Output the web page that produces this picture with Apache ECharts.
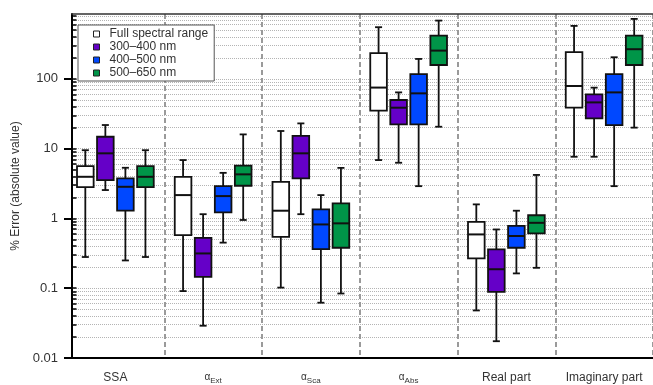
<!DOCTYPE html>
<html>
<head>
<meta charset="utf-8">
<script src="https://cdn.jsdelivr.net/npm/echarts@6/dist/echarts.min.js"></script>
<style>
  html, body { margin: 0; padding: 0; background: #fff; }
  #chart { width: 653px; height: 385px; }
</style>
</head>
<body>
<div id="chart"></div>
<script>
// Retrieved parameters
const categories = ['SSA', 'αExt', 'αSca', 'αAbs', 'Real part', 'Imaginary part'];
const seriesNames = ['Full spectral range', '300–400 nm', '400–500 nm', '500–650 nm'];
const seriesColors = ['#ffffff', '#6500c8', '#0048ff', '#009548'];

// Error summaries per category: [lower whisker, Q1, median, Q3, upper whisker]
const fullRange = [
  [0.28, 2.8, 3.95, 5.6, 9.5],
  [0.091, 0.576, 2.16, 3.95, 6.86],
  [0.102, 0.545, 1.29, 3.35, 17.9],
  [6.86, 35, 75, 233, 550],
  [0.048, 0.267, 0.59, 0.89, 1.59],
  [7.65, 38.6, 79, 241, 574]
];
const band300to400 = [
  [2.55, 3.55, 8.57, 14.8, 21.8],
  [0.029, 0.145, 0.315, 0.527, 1.15],
  [1.15, 3.75, 8.57, 15.2, 23],
  [6.28, 22.3, 38.6, 49.8, 64],
  [0.0174, 0.0885, 0.187, 0.36, 0.695],
  [7.65, 27.2, 46, 60, 74.8]
];
const band400to500 = [
  [0.25, 1.29, 2.84, 3.75, 5.32],
  [0.45, 1.22, 2.09, 2.9, 4.5],
  [0.062, 0.363, 0.82, 1.35, 2.16],
  [2.9, 22.3, 62, 117, 193],
  [0.163, 0.38, 0.56, 0.78, 1.29],
  [2.9, 21.8, 64, 117, 204]
];
const band500to650 = [
  [0.28, 2.8, 3.95, 5.6, 9.5],
  [0.95, 2.94, 4.28, 5.7, 16],
  [0.084, 0.38, 0.85, 1.64, 5.3],
  [20.6, 158, 254, 417, 684],
  [0.196, 0.61, 0.865, 1.11, 4.2],
  [20, 158, 266, 417, 723]
];
const seriesValues = [fullRange, band300to400, band400to500, band500to650];

// Log axis ticks
const yMin = 0.01;
const yMax = 850;
const decades = [0.01, 0.1, 1, 10, 100];
const majorTicks = decades.slice();
const minorTicks = [];
decades.forEach(function (d) {
  for (let k = 2; k <= 9; k++) {
    const v = +(k * d).toPrecision(3);
    if (v <= yMax) minorTicks.push(v);
  }
});
const gridTicks = majorTicks.concat(minorTicks);

const font = "'Liberation Sans', Arial, sans-serif";
const ink = '#111';

function renderBox(params, api) {
  const cat = api.value(0);
  const low = api.coord([cat, api.value(1)]);
  const q1 = api.coord([cat, api.value(2)]);
  const med = api.coord([cat, api.value(3)]);
  const q3 = api.coord([cat, api.value(4)]);
  const high = api.coord([cat, api.value(5)]);
  const band = api.size([1, 1])[0];
  const x = low[0] + (params.seriesIndex - 1.5) * band * 0.205;
  const half = band * 0.085;
  const cap = band * 0.036;
  const stroke = { stroke: ink, lineWidth: 1.8 };
  return {
    type: 'group',
    children: [
      { type: 'line', shape: { x1: x, y1: high[1], x2: x, y2: low[1] }, style: stroke },
      { type: 'line', shape: { x1: x - cap, y1: high[1], x2: x + cap, y2: high[1] }, style: stroke },
      { type: 'line', shape: { x1: x - cap, y1: low[1], x2: x + cap, y2: low[1] }, style: stroke },
      { type: 'rect', shape: { x: x - half, y: q3[1], width: 2 * half, height: q1[1] - q3[1] },
        style: { fill: api.visual('color'), stroke: ink, lineWidth: 1.8 } },
      { type: 'line', shape: { x1: x - half, y1: med[1], x2: x + half, y2: med[1] }, style: { stroke: ink, lineWidth: 2 } }
    ]
  };
}

const series = seriesNames.map(function (name, si) {
  return {
    type: 'custom',
    name: name,
    xAxisIndex: 0,
    yAxisIndex: 0,
    renderItem: renderBox,
    itemStyle: { color: seriesColors[si], borderColor: ink },
    encode: { x: 0, y: [1, 2, 3, 4, 5] },
    data: seriesValues[si].map(function (d, i) { return [i].concat(d); }),
    z: 5
  };
});

const chart = echarts.init(document.getElementById('chart'), null, { renderer: 'canvas' });
chart.setOption({
  animation: false,
  backgroundColor: '#fff',
  grid: [
    { left: 66.5, width: 591.6, top: 14, height: 344 },
    { left: 72, width: 590, top: 14, height: 344 }
  ],
  legend: {
    data: seriesNames,
    orient: 'vertical',
    left: 78,
    top: 25,
    itemWidth: 6,
    itemHeight: 6,
    itemGap: 1,
    padding: [3, 6, 2, 15],
    borderColor: '#555',
    borderWidth: 1,
    backgroundColor: '#fff',
    icon: 'rect',
    itemStyle: { borderColor: '#222', borderWidth: 1 },
    textStyle: { fontSize: 12, color: '#333', fontFamily: font, padding: [0, 0, 0, 5], lineHeight: 12 },
    z: 10
  },
  xAxis: [
    {
      gridIndex: 0,
      type: 'category',
      data: categories,
      boundaryGap: true,
      axisLine: { show: false },
      axisTick: { show: false },
      axisLabel: {
        interval: 0,
        margin: 14,
        fontSize: 12,
        color: '#333',
        fontFamily: font,
        formatter: function (v) {
          if (v.charAt(0) === 'α') return '{a|α}{s|' + v.slice(1) + '}';
          return v;
        },
        rich: {
          a: { fontSize: 10, color: '#333', fontFamily: font, padding: [0, 0, 3, 0] },
          s: { fontSize: 8, color: '#333', fontFamily: font, padding: [4, 0, 0, 0] }
        }
      },
      splitLine: {
        show: true,
        interval: function (i) { return i > 0; },
        lineStyle: { type: [5, 3], color: '#9a9a9a', width: 2 }
      }
    },
    {
      gridIndex: 1, type: 'value', position: 'bottom', min: 0, max: 1,
      axisLine: { show: true, lineStyle: { color: '#000', width: 2 } },
      axisTick: { show: false }, axisLabel: { show: false }, splitLine: { show: false }
    },
    {
      gridIndex: 1, type: 'value', position: 'top', min: 0, max: 1,
      axisLine: { show: true, lineStyle: { color: '#333', width: 1.5 } },
      axisTick: { show: false }, axisLabel: { show: false }, splitLine: { show: false }
    }
  ],
  yAxis: [
    {
      gridIndex: 0, type: 'log', logBase: 10, min: yMin, max: yMax, show: false
    },
    {
      gridIndex: 1, type: 'log', logBase: 10, min: yMin, max: yMax,
      name: '% Error (absolute value)',
      nameLocation: 'middle',
      nameGap: 50,
      nameTextStyle: { fontSize: 12, color: '#333', fontFamily: font },
      axisLine: { show: true, lineStyle: { color: '#000', width: 2 } },
      axisTick: { show: true, inside: false, length: 8, customValues: majorTicks, lineStyle: { color: '#000', width: 2 } },
      axisLabel: { customValues: majorTicks, margin: 14, fontSize: 13, color: '#333', fontFamily: font,
        formatter: function (v) { return String(v); } },
      splitLine: { show: false }
    },
    {
      gridIndex: 1, type: 'log', logBase: 10, min: yMin, max: yMax,
      axisLine: { show: false },
      axisTick: { show: true, inside: false, length: 4.5, customValues: gridTicks, lineStyle: { color: '#000', width: 1.5 } },
      axisLabel: { show: false },
      splitLine: { show: true, lineStyle: { type: [1, 1], color: '#b4b4b4', width: 1 } }
    }
  ],
  series: series
});
</script>
</body>
</html>
